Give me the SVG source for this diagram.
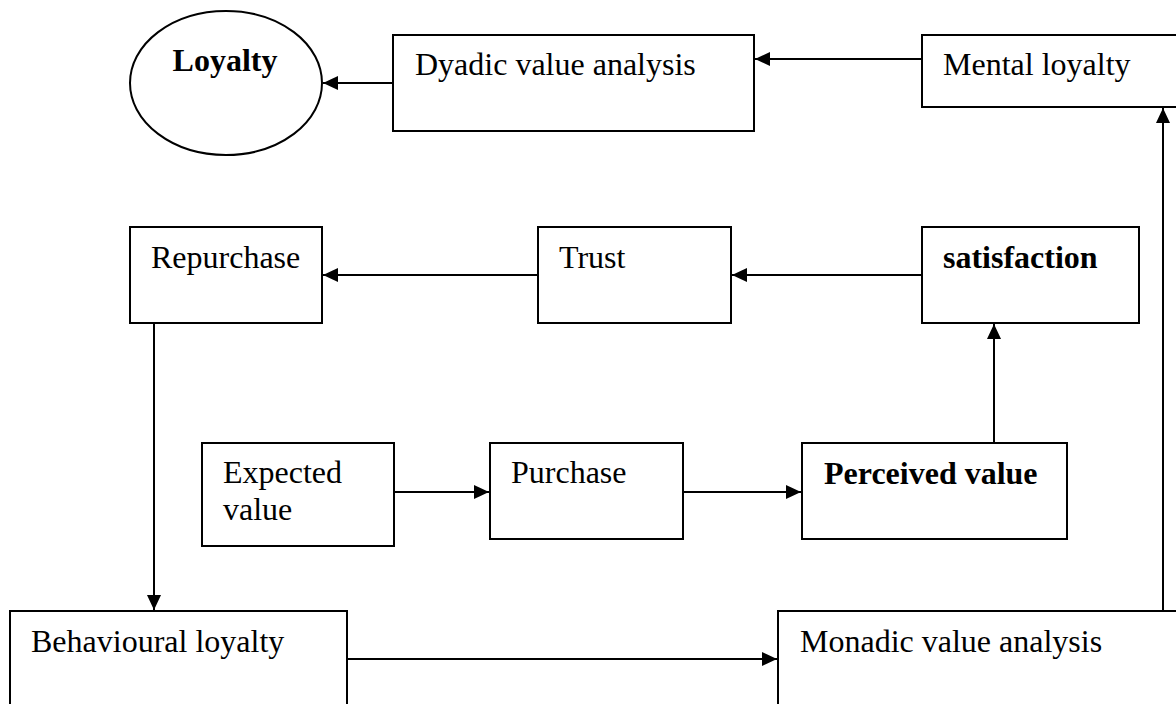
<svg xmlns="http://www.w3.org/2000/svg" width="1176" height="704" viewBox="0 0 1176 704">
  <style>
    .box { fill: #ffffff; stroke: #000000; stroke-width: 2; }
    .lbl { font-family: "Liberation Serif", "Times New Roman", serif; font-size: 32px; fill: #000000; }
    .bold { font-weight: bold; }
    .conn { fill: none; stroke: #000000; stroke-width: 2; }
  </style>
  <defs>
    <marker id="arrow" markerUnits="userSpaceOnUse" markerWidth="16" markerHeight="14" refX="15" refY="7" orient="auto">
      <path d="M0,0 L15,7 L0,14 z" fill="#000000"/>
    </marker>
  </defs>
  <rect x="0" y="0" width="1176" height="704" fill="#ffffff"/>

  <g id="connectors">
    <line class="conn" x1="393" y1="83" x2="323" y2="83" marker-end="url(#arrow)"/>
    <line class="conn" x1="922" y1="59" x2="755" y2="59" marker-end="url(#arrow)"/>
    <line class="conn" x1="1163" y1="611" x2="1163" y2="108" marker-end="url(#arrow)"/>
    <line class="conn" x1="538" y1="275" x2="323" y2="275" marker-end="url(#arrow)"/>
    <line class="conn" x1="922" y1="275" x2="732" y2="275" marker-end="url(#arrow)"/>
    <line class="conn" x1="994" y1="443" x2="994" y2="324" marker-end="url(#arrow)"/>
    <line class="conn" x1="394" y1="492" x2="489" y2="492" marker-end="url(#arrow)"/>
    <line class="conn" x1="683" y1="492" x2="801" y2="492" marker-end="url(#arrow)"/>
    <line class="conn" x1="154" y1="323" x2="154" y2="610" marker-end="url(#arrow)"/>
    <line class="conn" x1="347" y1="659" x2="777" y2="659" marker-end="url(#arrow)"/>
  </g>

  <g id="loyalty">
    <ellipse class="box" cx="226" cy="83" rx="96" ry="72"/>
    <text class="lbl bold" x="225" y="71" text-anchor="middle">Loyalty</text>
  </g>
  <g id="dyadic">
    <rect class="box" x="393" y="35" width="361" height="96"/>
    <text class="lbl" x="415" y="75">Dyadic value analysis</text>
  </g>
  <g id="mental">
    <rect class="box" x="922" y="35" width="270" height="72"/>
    <text class="lbl" x="943" y="75">Mental loyalty</text>
  </g>
  <g id="repurchase">
    <rect class="box" x="130" y="227" width="192" height="96"/>
    <text class="lbl" x="151" y="268">Repurchase</text>
  </g>
  <g id="trust">
    <rect class="box" x="538" y="227" width="193" height="96"/>
    <text class="lbl" x="559" y="268">Trust</text>
  </g>
  <g id="satisfaction">
    <rect class="box" x="922" y="227" width="217" height="96"/>
    <text class="lbl bold" x="943" y="268">satisfaction</text>
  </g>
  <g id="expected">
    <rect class="box" x="202" y="443" width="192" height="103"/>
    <text class="lbl" x="223" y="483">Expected</text>
    <text class="lbl" x="223" y="520">value</text>
  </g>
  <g id="purchase">
    <rect class="box" x="490" y="443" width="193" height="96"/>
    <text class="lbl" x="511" y="483">Purchase</text>
  </g>
  <g id="perceived">
    <rect class="box" x="802" y="443" width="265" height="96"/>
    <text class="lbl bold" x="824" y="484">Perceived value</text>
  </g>
  <g id="behavioural">
    <rect class="box" x="10" y="611" width="337" height="110"/>
    <text class="lbl" x="31" y="652">Behavioural loyalty</text>
  </g>
  <g id="monadic">
    <rect class="box" x="778" y="611" width="420" height="110"/>
    <text class="lbl" x="800" y="652">Monadic value analysis</text>
  </g>
</svg>
